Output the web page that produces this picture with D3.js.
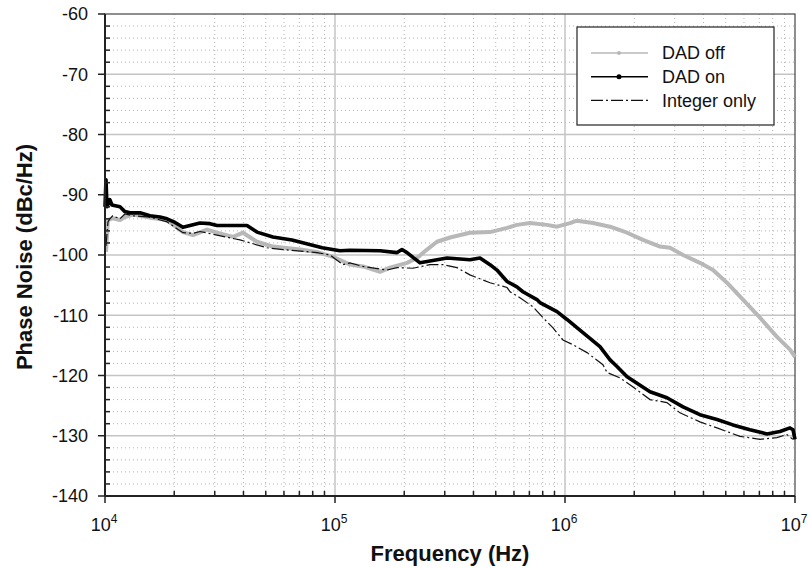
<!DOCTYPE html>
<html>
<head>
<meta charset="utf-8">
<script src="https://cdn.jsdelivr.net/npm/d3@7"></script>
<style>
  body { margin: 0; background: #fff; }
  text { font-family: "Liberation Sans", Arial, sans-serif; fill: #111; }
</style>
</head>
<body>
<div id="chart"></div>
<script>
// phase noise curves: [frequency Hz, dBc/Hz]
const dadOff = [
  [1.01e4, -99.5], [1.03e4, -94.2], [1.08e4, -93.9], [1.162e4, -94.2], [1.22e4, -93.7],
  [1.324e4, -93.3], [1.569e4, -93.8], [1.86e4, -94.2], [2.183e4, -96.2], [2.413e4, -96.7],
  [2.777e4, -95.8], [3.069e4, -96.3], [3.603e4, -97], [3.98e4, -96.3], [4.58e4, -97.8],
  [5.37e4, -98.6], [7.04e4, -99.1], [8.35e4, -99.5], [9.8e4, -100.3], [1.162e5, -101.6],
  [1.324e5, -101.9], [1.569e5, -102.8], [1.734e5, -102.1], [2.056e5, -101.3], [2.273e5, -100.5],
  [2.512e5, -99.1], [2.775e5, -97.8], [3.162e5, -97.1], [3.86e5, -96.3], [4.72e5, -96.2],
  [5.6e5, -95.5], [6.18e5, -95], [7.04e5, -94.7], [8.35e5, -95], [9.23e5, -95.3],
  [1.051e6, -94.7], [1.127e6, -94.3], [1.324e6, -94.7], [1.57e6, -95.3], [1.862e6, -96.3],
  [2.183e6, -97.5], [2.588e6, -98.6], [2.86e6, -98.8], [3.26e6, -100], [3.86e6, -101.3],
  [4.4e6, -102.5], [5.06e6, -104.6], [5.94e6, -107.4], [7.04e6, -110.4], [8.35e6, -113.6],
  [9.51e6, -115.7], [1.0e7, -116.9]
];
const dadOn = [
  [1.0e4, -92], [1.01e4, -87.5], [1.02e4, -92], [1.05e4, -90.8], [1.072e4, -91.7],
  [1.162e4, -92], [1.22e4, -92.8], [1.284e4, -93], [1.419e4, -93], [1.569e4, -93.5],
  [1.734e4, -93.7], [1.86e4, -94], [2.016e4, -94.6], [2.183e4, -95.4], [2.342e4, -95.1],
  [2.588e4, -94.7], [2.861e4, -94.8], [3.069e4, -95.1], [3.603e4, -95.1], [4.143e4, -95.1],
  [4.58e4, -96.2], [5.37e4, -97], [6.5e4, -97.5], [8.8e4, -98.8], [1.051e5, -99.3],
  [1.162e5, -99.2], [1.569e5, -99.3], [1.862e5, -99.6], [1.955e5, -99.1], [2.056e5, -99.6],
  [2.342e5, -101.3], [3.07e5, -100.5], [3.86e5, -100.8], [4.27e5, -100.5], [4.72e5, -101.6],
  [5.06e5, -102.5], [5.6e5, -104.4], [6.18e5, -105.3], [6.56e5, -106.1], [7.55e5, -107.4],
  [7.78e5, -107.9], [9.23e5, -109.4], [1.02e6, -110.7], [1.197e6, -112.9], [1.419e6, -115.2],
  [1.57e6, -117.4], [1.683e6, -118.5], [1.862e6, -120.2], [2.342e6, -122.7], [2.775e6, -123.7],
  [3.26e6, -125.2], [3.86e6, -126.5], [4.58e6, -127.3], [5.37e6, -128.2], [6.37e6, -129],
  [7.55e6, -129.7], [8.6e6, -129.3], [9.51e6, -128.7], [9.8e6, -129], [1.0e7, -130.6]
];
const integerOnly = [
  [1.01e4, -98.5], [1.03e4, -94.5], [1.05e4, -94], [1.08e4, -93.5], [1.162e4, -94],
  [1.22e4, -93.2], [1.324e4, -93.5], [1.569e4, -93.7], [1.86e4, -94.5], [2.183e4, -96.3],
  [2.413e4, -96.4], [2.588e4, -96.1], [3.069e4, -96.7], [3.864e4, -97.5], [5.06e4, -98.8],
  [5.94e4, -99.1], [8.35e4, -99.6], [9.51e4, -100], [1.084e5, -101.6], [1.162e5, -101.3],
  [1.324e5, -101.9], [1.683e5, -102.5], [1.862e5, -102.1], [2.183e5, -102.2], [2.588e5, -101.6],
  [2.95e5, -101.6], [3.39e5, -102.1], [3.86e5, -103.3], [4.72e5, -104.6], [5.6e5, -105.4],
  [5.77e5, -106.1], [6.37e5, -107.1], [7.26e5, -108.6], [8.02e5, -110.4], [8.87e5, -112.1],
  [9.8e5, -114.1], [1.084e6, -114.9], [1.247e6, -116.2], [1.462e6, -118.2], [1.523e6, -119.5],
  [1.734e6, -120.4], [1.977e6, -121.9], [2.342e6, -124], [2.775e6, -124.5], [3.162e6, -126.2],
  [3.86e6, -127.7], [4.58e6, -128.7], [5.77e6, -130.1], [7.04e6, -130.6], [8.35e6, -130.3],
  [9.23e6, -129.8], [9.8e6, -130.6]
];
const seriesNames = ["DAD off", "DAD on", "Integer only"];
const yTicks = [-140, -130, -120, -110, -100, -90, -80, -70, -60];
const xDecades = [4, 5, 6, 7];

const width = 809, height = 569;
const margin = { top: 14, right: 14, bottom: 73, left: 105 };
const w = width - margin.left - margin.right;
const h = height - margin.top - margin.bottom;

const svg = d3.select("#chart").append("svg")
  .attr("width", width)
  .attr("height", height);
const g = svg.append("g")
  .attr("transform", "translate(" + margin.left + "," + margin.top + ")");

const x = d3.scaleLog().domain([1e4, 1e7]).range([0, w]);
const y = d3.scaleLinear().domain([-140, -60]).range([h, 0]);

// minor grid
const minorX = [];
for (let e = 4; e < 7; e++) for (let m = 2; m <= 9; m++) minorX.push(m * Math.pow(10, e));
const minorY = d3.range(-138, -60, 2).filter(v => v % 10 !== 0);

g.append("g").selectAll("line").data(minorX).enter().append("line")
  .attr("x1", d => x(d)).attr("x2", d => x(d))
  .attr("y1", 0).attr("y2", h)
  .attr("stroke", "#b4b4b4").attr("stroke-width", 1).attr("stroke-dasharray", "1,3");
g.append("g").selectAll("line").data(minorY).enter().append("line")
  .attr("x1", 0).attr("x2", w)
  .attr("y1", d => y(d)).attr("y2", d => y(d))
  .attr("stroke", "#b4b4b4").attr("stroke-width", 1).attr("stroke-dasharray", "1,3");

// major grid
g.append("g").selectAll("line").data(xDecades.slice(1, -1)).enter().append("line")
  .attr("x1", d => x(Math.pow(10, d))).attr("x2", d => x(Math.pow(10, d)))
  .attr("y1", 0).attr("y2", h)
  .attr("stroke", "#c4c4c4").attr("stroke-width", 1.5);
g.append("g").selectAll("line").data(yTicks.slice(1, -1)).enter().append("line")
  .attr("x1", 0).attr("x2", w)
  .attr("y1", d => y(d)).attr("y2", d => y(d))
  .attr("stroke", "#c4c4c4").attr("stroke-width", 1.5);

// frame
g.append("rect").attr("width", w).attr("height", h)
  .attr("fill", "none").attr("stroke", "#444").attr("stroke-width", 1.2);

// curves
const line = d3.line().x(d => x(d[0])).y(d => y(d[1]));
g.append("path").datum(dadOff).attr("d", line)
  .attr("fill", "none").attr("stroke", "#b8b8b8").attr("stroke-width", 4)
  .attr("stroke-linejoin", "round");
g.append("path").datum(integerOnly).attr("d", line)
  .attr("fill", "none").attr("stroke", "#111").attr("stroke-width", 1.2)
  .attr("stroke-dasharray", "12,3,2,3");
g.append("path").datum(dadOn).attr("d", line)
  .attr("fill", "none").attr("stroke", "#000").attr("stroke-width", 3.6)
  .attr("stroke-linejoin", "round");

// y axis: major ticks outside, minor inside
const yAxis = g.append("g");
yAxis.append("line").attr("x1", 0).attr("x2", 0).attr("y1", 0).attr("y2", h)
  .attr("stroke", "#222").attr("stroke-width", 2);
yAxis.selectAll(".maj").data(yTicks).enter().append("line")
  .attr("x1", -7).attr("x2", 0).attr("y1", d => y(d)).attr("y2", d => y(d))
  .attr("stroke", "#222").attr("stroke-width", 1.5);
yAxis.selectAll(".min").data(minorY).enter().append("line")
  .attr("x1", 0).attr("x2", 5).attr("y1", d => y(d)).attr("y2", d => y(d))
  .attr("stroke", "#222").attr("stroke-width", 1.5);
yAxis.selectAll("text").data(yTicks).enter().append("text")
  .attr("x", -17).attr("y", d => y(d)).attr("dy", "0.36em")
  .attr("text-anchor", "end").attr("font-size", 18)
  .text(d => d);

// x axis
const xAxis = g.append("g").attr("transform", "translate(0," + h + ")");
xAxis.append("line").attr("x1", 0).attr("x2", w)
  .attr("stroke", "#222").attr("stroke-width", 2);
xAxis.selectAll(".maj").data(xDecades).enter().append("line")
  .attr("x1", d => x(Math.pow(10, d))).attr("x2", d => x(Math.pow(10, d)))
  .attr("y1", 0).attr("y2", 7)
  .attr("stroke", "#222").attr("stroke-width", 1.5);
xAxis.selectAll(".min").data(minorX).enter().append("line")
  .attr("x1", d => x(d)).attr("x2", d => x(d))
  .attr("y1", -5).attr("y2", 0)
  .attr("stroke", "#222").attr("stroke-width", 1.5);
const xl = xAxis.selectAll("text").data(xDecades).enter().append("text")
  .attr("x", d => x(Math.pow(10, d)) - 1).attr("y", 35)
  .attr("text-anchor", "middle").attr("font-size", 18);
xl.append("tspan").text("10");
xl.append("tspan").attr("dy", -8).attr("font-size", 12).text(d => d);

// axis titles
svg.append("text")
  .attr("x", 450).attr("y", 561)
  .attr("text-anchor", "middle").attr("font-size", 22).attr("font-weight", "bold")
  .text("Frequency (Hz)");
svg.append("text")
  .attr("transform", "translate(32,257) rotate(-90)")
  .attr("text-anchor", "middle").attr("font-size", 22).attr("font-weight", "bold")
  .text("Phase Noise (dBc/Hz)");

// legend
const legend = svg.append("g").attr("transform", "translate(577,27)");
legend.append("rect").attr("width", 197).attr("height", 98)
  .attr("fill", "#fff").attr("stroke", "#222").attr("stroke-width", 1.2);
const legendStyles = [
  { stroke: "#b8b8b8", sw: 1.5, dash: null, marker: 2 },
  { stroke: "#000", sw: 1.5, dash: null, marker: 2.5 },
  { stroke: "#111", sw: 1.2, dash: "12,3,2,3", marker: 0 }
];
const items = legend.selectAll(".item").data(seriesNames).enter().append("g")
  .attr("transform", (d, i) => "translate(0," + (26 + i * 23.7) + ")");
items.append("line").attr("x1", 14).attr("x2", 71)
  .attr("stroke", (d, i) => legendStyles[i].stroke)
  .attr("stroke-width", (d, i) => legendStyles[i].sw)
  .attr("stroke-dasharray", (d, i) => legendStyles[i].dash);
items.filter((d, i) => legendStyles[i].marker > 0).append("circle")
  .attr("cx", 42).attr("r", d => legendStyles[seriesNames.indexOf(d)].marker)
  .attr("fill", d => legendStyles[seriesNames.indexOf(d)].stroke);
items.append("text").attr("x", 85).attr("dy", "0.36em")
  .attr("font-size", 18).text(d => d);
</script>
</body>
</html>
